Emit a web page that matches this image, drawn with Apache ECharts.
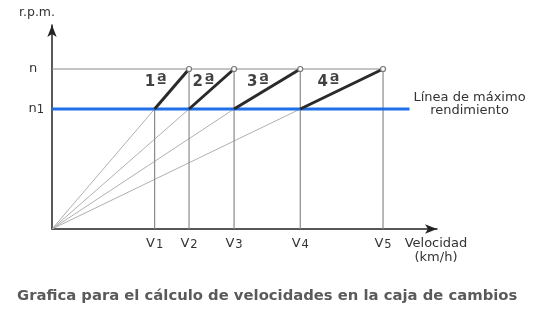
<!DOCTYPE html>
<html><head><meta charset="utf-8">
<script src="https://cdn.jsdelivr.net/npm/echarts@6/dist/echarts.min.js"></script>
<style>html,body{margin:0;padding:0;background:#fff}#c{width:541px;height:314px}</style>
</head><body><div id="c"></div>
<script>
// Data
const speedIdx = ['1', '2', '3', '4', '5'];          // V1..V5 subscripts
const speeds = [31, 41.4, 55, 75, 100];              // V1..V5 (relative km/h)
const rpmMax = 4000;                                 // n
const rpmOpt = 3000;                                 // n1
const gears = ['1ª', '2ª', '3ª', '4ª'];
const gearLabelShift = [[-16, -7], [-8, -7], [-9, -7], [-13, -7]];
const blueEnd = 108;
const xMax = 116.3, yMax = 5100;

const FONT = 'DejaVu Sans';
const series = [];
const base = {type: 'line', silent: true, animation: false, symbol: 'none', z: 2};

// rays from origin
for (let i = 0; i < 4; i++) {
  series.push(Object.assign({}, base, {
    data: [[0, 0], [speeds[i], rpmOpt]],
    lineStyle: {color: '#b0b0b0', width: 1}
  }));
}
// verticals
for (let i = 0; i < 5; i++) {
  series.push(Object.assign({}, base, {
    data: [[speeds[i], 0], [speeds[i], i === 0 ? rpmOpt : rpmMax]],
    lineStyle: {color: '#8a8a8a', width: 1.2}
  }));
}
// horizontal n
series.push(Object.assign({}, base, {
  data: [[0, rpmMax], [speeds[4], rpmMax]],
  lineStyle: {color: '#8a8a8a', width: 1.2}
}));
// blue line n1
series.push(Object.assign({}, base, {
  z: 3,
  data: [[0, rpmOpt], [blueEnd, rpmOpt]],
  lineStyle: {color: '#1f6fe8', width: 3},
  endLabel: {
    show: true, formatter: 'Línea de máximo\nrendimiento', align: 'center',
    offset: [52, -5], color: '#333', fontFamily: FONT, fontSize: 13, lineHeight: 13
  }
}));
// gear lines
for (let i = 0; i < 4; i++) {
  series.push(Object.assign({}, base, {
    z: 4,
    data: [{value: [speeds[i], rpmOpt], symbol: 'none'},
           {value: [speeds[i + 1], rpmMax], symbol: 'circle', symbolSize: 5,
            itemStyle: {color: '#fff', borderColor: '#777', borderWidth: 1.2}}],
    showSymbol: true,
    lineStyle: {color: '#2a2a2a', width: 3}
  }));
}
// gear labels
series.push({
  type: 'scatter', silent: true, animation: false, symbolSize: 0, z: 5,
  data: gears.map((g, i) => ({
    value: [(speeds[i] + speeds[i + 1]) / 2, (rpmOpt + rpmMax) / 2],
    label: {show: true, position: 'inside', formatter: '{a|' + g.charAt(0) + '}{b|' + g.charAt(1) + '}', offset: gearLabelShift[i],
      rich: {a: {fontSize: 15, fontWeight: 'bold', color: '#111', fontFamily: FONT},
             b: {fontSize: 19, fontWeight: 'bold', color: '#111', fontFamily: FONT, padding: [0, 0, 0, 1]}}}
  }))
});

const chart = echarts.init(document.getElementById('c'));
chart.setOption({
  backgroundColor: '#fff',
  animation: false,
  title: {
    text: 'Grafica para el cálculo de velocidades en la caja de cambios',
    left: 17, top: 289, padding: 0,
    textStyle: {fontFamily: FONT, fontSize: 14.8, fontWeight: 'bold', color: '#5a5a5a'}
  },
  grid: {left: 52, right: 104, top: 25, bottom: 85, containLabel: false},
  xAxis: {
    type: 'value', min: 0, max: xMax,
    splitLine: {show: false}, axisTick: {show: false},
    axisLine: {lineStyle: {color: '#222', width: 1.5}, symbol: ['none', 'arrow'], symbolSize: [7, 12]},
    axisLabel: {
      customValues: speeds, margin: 8,
      formatter: v => '{a|V}{b|' + speedIdx[speeds.indexOf(v)] + '}',
      rich: {a: {fontSize: 13, color: '#333', fontFamily: FONT}, b: {fontSize: 11.5, color: '#333', fontFamily: FONT, padding: [2, 0, 0, 1]}}
    },
    name: 'Velocidad\n(km/h)', nameLocation: 'end', nameGap: -1,
    nameTextStyle: {align: 'center', verticalAlign: 'top', padding: [8, 0, 0, 0], color: '#333', fontFamily: FONT, fontSize: 13, lineHeight: 14}
  },
  yAxis: {
    type: 'value', min: 0, max: yMax,
    splitLine: {show: false}, axisTick: {show: false},
    axisLine: {lineStyle: {color: '#222', width: 1.5}, symbol: ['none', 'arrow'], symbolSize: [7, 12]},
    axisLabel: {
      customValues: [rpmOpt, rpmMax], margin: 8,
      formatter: v => v === rpmMax ? '{a|n}  ' : '{a|n}{b|1}',
      rich: {a: {fontSize: 13, color: '#333', fontFamily: FONT}, b: {fontSize: 11.5, color: '#333', fontFamily: FONT, padding: [2, 0, 0, 0]}}
    },
    name: 'r.p.m.', nameLocation: 'end', nameGap: 6,
    nameTextStyle: {align: 'center', padding: [0, 30, 0, 0], color: '#333', fontFamily: FONT, fontSize: 12.5}
  },
  series: series
});
</script>
</body></html>
